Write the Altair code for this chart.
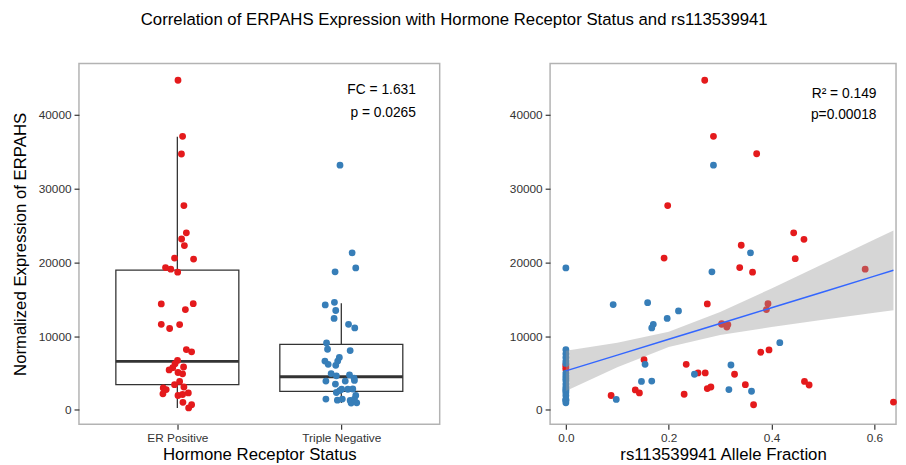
import altair as alt
import pandas as pd

# ---------------- data ----------------
groups = ["ER Positive", "Triple Negative"]

# left panel: expression values and horizontal jitter (in category units)
er_expr = [44670, 37070, 34670, 27690, 24000, 23160, 22270, 20580, 20440, 19290,
           19070, 18670, 14360, 14400, 13600, 11600, 11030, 11560, 8180, 7870,
           6710, 6270, 5730, 5420, 5820, 5070, 4890, 3870, 3420, 3110,
           2980, 2760, 2310, 2180, 1960, 2090, 1030, 710, 270]
er_jitter = [0.004, 0.032, 0.025, 0.040, 0.055, 0.026, 0.043, -0.017, 0.099, -0.072,
             -0.040, 0.002, -0.098, 0.097, 0.049, -0.098, -0.047, 0.014, 0.055, 0.087,
             0.001, -0.014, -0.028, -0.050, 0.038, 0.004, 0.032, 0.014, -0.017, 0.040,
             -0.086, -0.068, 0.067, -0.088, 0.004, 0.032, 0.034, 0.087, 0.069]
tn_expr = [33160, 21290, 18710, 19240, 14230, 14580, 13470, 12400, 11600, 11110,
           9070, 8220, 8040, 7110, 6620, 6620, 6180, 6040, 4930, 4620,
           4750, 4310, 3910, 3910, 4000, 3510, 2800, 2800, 2840, 2360,
           2620, 1960, 1470, 1330, 1470, 1290, 930, 970, 1470]
tn_jitter = [-0.008, 0.066, -0.038, 0.088, -0.098, -0.042, -0.034, -0.044, 0.044, 0.082,
             -0.090, -0.084, 0.054, -0.012, -0.022, -0.100, -0.080, -0.034, -0.062, -0.030,
             0.050, 0.078, -0.094, 0.024, 0.080, -0.036, 0.002, 0.040, 0.070, -0.030,
             -0.010, 0.088, -0.094, -0.024, 0.006, 0.054, 0.060, 0.094, 0.080]

# box plot summaries
box_lower = [270, 930]
box_q1 = [3430, 2530]
box_median = [6580, 4490]
box_q3 = [18930, 8890]
box_upper = [37000, 14440]

# right panel: allele fraction vs expression
af_er = [0.270, 0.287, 0.198, 0.191, 0.275, 0.303, 0.152, 0.234, 0.257, 0.271,
         0.275, 0.282, 0.135, 0.143, 0.088, 0.230, 0.371, 0.443, 0.463, 0.341,
         0.446, 0.338, 0.363, 0.582, 0.393, 0.390, 0.303, 0.313, 0.315, 0.379,
         0.395, 0.328, 0.349, 0.365, 0.464, 0.473, 0.637, 0.0, 0.0, 0.0]
ex_er = [44670, 37070, 27690, 20580, 14360, 11600, 6800, 6180, 5020, 5020,
         2890, 3110, 2710, 2310, 1960, 2130, 34710, 24000, 23110, 22310,
         20490, 19290, 18670, 19070, 14400, 13600, 11690, 11240, 11560, 7820,
         8130, 4840, 3420, 710, 3870, 3380, 1070, 5800, 5500, 6100]
af_tn = [0.287, 0.284, 0.092, 0.159, 0.219, 0.197, 0.170, 0.167, 0.154, 0.250,
         0.147, 0.167, 0.098, 0.359, 0.416, 0.321, 0.317, 0.361,
         0.0, 0.0, 0.0, 0.0, 0.0, 0.0, 0.0, 0.0, 0.0, 0.0,
         0.0, 0.0, 0.0, 0.0, 0.0, 0.0, 0.0, 0.0, 0.0, 0.0]
ex_tn = [33160, 18710, 14270, 14530, 13420, 12400, 11600, 11110, 6180, 4840,
         3870, 3910, 1430, 21290, 9110, 6090, 2760, 2530,
         19240, 8170, 7600, 7110, 6620, 6300, 5000, 4620, 4310, 4000,
         3510, 3100, 2800, 2620, 2360, 1960, 1470, 1330, 1290, 970]

# fitted line and its confidence band
fit_x = [0.0, 0.1, 0.2, 0.3, 0.4, 0.5, 0.6, 0.637]
fit_y = [5290, 7430, 9570, 11710, 13850, 15990, 18130, 18920]
fit_lo = [2560, 5770, 8530, 10150, 11240, 12220, 13170, 13520]
fit_hi = [8020, 9090, 10610, 13270, 16460, 19760, 23090, 24320]

title_text = "Correlation of ERPAHS Expression with Hormone Receptor Status and rs113539941"
y_ticks = [0, 10000, 20000, 30000, 40000]

RED = "#E41A1C"
BLUE = "#377EB8"
FONT = "Liberation Sans"

# ---------------- tables ----------------
pts_left = pd.DataFrame({
    "group": [groups[0]] * len(er_expr) + [groups[1]] * len(tn_expr),
    "pos": [1 + j for j in er_jitter] + [2 + j for j in tn_jitter],
    "expr": er_expr + tn_expr,
})
box = pd.DataFrame({
    "group": groups,
    "pos": [1, 2],
    "lower": box_lower, "q1": box_q1, "median": box_median,
    "q3": box_q3, "upper": box_upper,
})
pts_right = pd.DataFrame({
    "group": [groups[0]] * len(af_er) + [groups[1]] * len(af_tn),
    "af": af_er + af_tn,
    "expr": ex_er + ex_tn,
})
fit = pd.DataFrame({"af": fit_x, "expr": fit_y, "lo": fit_lo, "hi": fit_hi})

color = alt.Color("group:N", scale=alt.Scale(domain=groups, range=[RED, BLUE]), legend=None)

yscale = alt.Scale(domain=[-1940, 46930], nice=False, zero=False)
xscale_l = alt.Scale(domain=[0.4, 2.6], nice=False, zero=False)
xscale_r = alt.Scale(domain=[-0.0307, 0.642], nice=False, zero=False)

yaxis_l = alt.Axis(values=y_ticks, format="d", title="Normalized Expression of ERPAHS",
                   titlePadding=9)
yaxis_r = alt.Axis(values=y_ticks, format="d", title=None)
xaxis_l = alt.Axis(values=[1, 2], title="Hormone Receptor Status",
                   labelExpr="datum.value == 1 ? 'ER Positive' : 'Triple Negative'",
                   titlePadding=4)
xaxis_r = alt.Axis(values=[0, 0.2, 0.4, 0.6], format=".1f",
                   title="rs113539941 Allele Fraction", titlePadding=4)

W, H = 366, 366
PT = 48

# ---------------- left panel ----------------
base_box = alt.Chart(box).transform_calculate(
    lo="datum.pos - 0.375", hi="datum.pos + 0.375")

whisker = base_box.mark_rule(color="#333333", strokeWidth=1.3).encode(
    x=alt.X("pos:Q", scale=xscale_l, axis=xaxis_l),
    y=alt.Y("lower:Q", scale=yscale, axis=yaxis_l),
    y2="upper:Q",
)
rect = base_box.mark_rect(fill="white", stroke="#333333", strokeWidth=1.3).encode(
    x=alt.X("lo:Q", scale=xscale_l, axis=xaxis_l),
    x2="hi:Q",
    y=alt.Y("q1:Q", scale=yscale, axis=yaxis_l),
    y2="q3:Q",
)
med = base_box.mark_rule(color="#333333", strokeWidth=3).encode(
    x=alt.X("lo:Q", scale=xscale_l, axis=xaxis_l),
    x2="hi:Q",
    y=alt.Y("median:Q", scale=yscale, axis=yaxis_l),
)
dots_l = alt.Chart(pts_left).mark_circle(size=PT, opacity=1).encode(
    x=alt.X("pos:Q", scale=xscale_l, axis=xaxis_l),
    y=alt.Y("expr:Q", scale=yscale, axis=yaxis_l),
    color=color,
)
ann_l = pd.DataFrame({"x": [2.455, 2.455], "y": [43320, 40250],
                      "t": ["FC = 1.631", "p = 0.0265"]})
text_l = alt.Chart(ann_l).mark_text(align="right", baseline="middle", fontSize=14,
                                    font=FONT, color="black").encode(
    x=alt.X("x:Q", scale=xscale_l, axis=xaxis_l),
    y=alt.Y("y:Q", scale=yscale, axis=yaxis_l),
    text="t:N",
)
left = alt.layer(whisker, rect, med, dots_l, text_l).properties(width=W, height=H)

# ---------------- right panel ----------------
dots_r = alt.Chart(pts_right).mark_circle(size=PT, opacity=1).encode(
    x=alt.X("af:Q", scale=xscale_r, axis=xaxis_r),
    y=alt.Y("expr:Q", scale=yscale, axis=yaxis_r),
    color=color,
)
band = alt.Chart(fit).mark_area(color="#999999", opacity=0.4).encode(
    x=alt.X("af:Q", scale=xscale_r, axis=xaxis_r),
    y=alt.Y("lo:Q", scale=yscale, axis=yaxis_r),
    y2="hi:Q",
)
line = alt.Chart(fit).mark_line(color="#3366FF", strokeWidth=1.5).encode(
    x=alt.X("af:Q", scale=xscale_r, axis=xaxis_r),
    y=alt.Y("expr:Q", scale=yscale, axis=yaxis_r),
)
ann_r = pd.DataFrame({"x": [0.604, 0.604], "y": [42780, 39900],
                      "t": ["R\u00b2 = 0.149", "p=0.00018"]})
text_r = alt.Chart(ann_r).mark_text(align="right", baseline="middle", fontSize=14,
                                    font=FONT, color="black").encode(
    x=alt.X("x:Q", scale=xscale_r, axis=xaxis_r),
    y=alt.Y("y:Q", scale=yscale, axis=yaxis_r),
    text="t:N",
)
right = alt.layer(dots_r, band, line, text_r).properties(width=351, height=H)

chart = alt.hconcat(left, right, spacing=68).properties(
    title=alt.Title(title_text, fontSize=17, font=FONT, fontWeight="normal",
                    anchor="middle", offset=34, color="black"),
    padding={"left": 2, "top": 0, "right": 0, "bottom": 0},
).configure_view(
    stroke="#b3b3b3", strokeWidth=1.5
).configure_axis(
    grid=False, domain=False, tickColor="#333333", tickSize=5, tickWidth=1.2,
    labelColor="#333333", labelFontSize=12, labelFont=FONT, labelPadding=3,
    titleFont=FONT, titleFontSize=17, titleFontWeight="normal", titleColor="black",
)

chart.save("out.html", embed_options={"renderer": "svg", "actions": False})
